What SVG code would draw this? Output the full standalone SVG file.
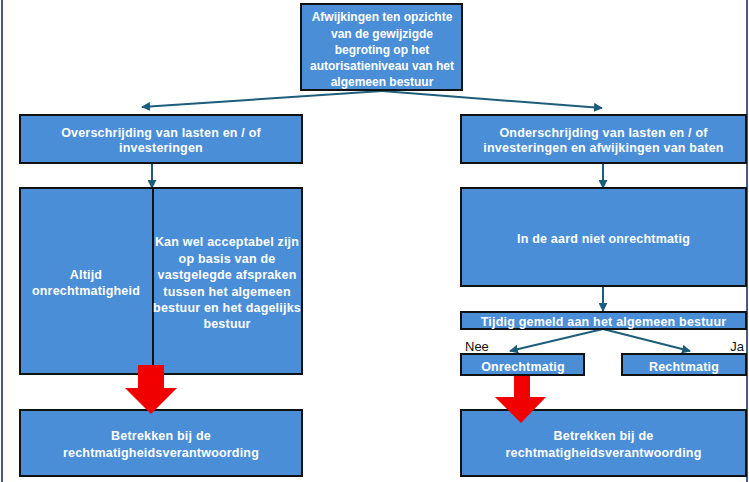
<svg xmlns="http://www.w3.org/2000/svg" width="749" height="482" viewBox="0 0 749 482">
<style>
.box{fill:#4a8ed8;stroke:#111;stroke-width:2}
.t{font-family:"Liberation Sans",Arial,sans-serif;font-weight:bold;font-size:12.5px;fill:#fff;text-anchor:middle;letter-spacing:0.2px}
.tn{font-family:"Liberation Sans",Arial,sans-serif;font-weight:bold;font-size:12px;fill:#fff;text-anchor:middle}
.lbl{font-family:"Liberation Sans",Arial,sans-serif;font-size:13px;fill:#111}
.c{stroke:#1d5d7c;stroke-width:2;fill:none;marker-end:url(#ah)}
.red{fill:#f20000}
</style>
<defs>
<marker id="ah" viewBox="0 0 10 10" refX="9" refY="5" markerWidth="4.5" markerHeight="4.5" orient="auto" markerUnits="strokeWidth">
<path d="M0,0 L10,5 L0,10 z" fill="#1d5d7c"/>
</marker>
</defs>
<rect width="749" height="482" fill="#fff"/>
<line x1="2" y1="0" x2="2" y2="482" stroke="#4a5a80" stroke-width="2"/>
<line x1="747" y1="0" x2="747" y2="482" stroke="#4a5a80" stroke-width="2"/>

<g id="connectors">
<line class="c" x1="382" y1="91" x2="142" y2="107"/>
<line class="c" x1="382" y1="91" x2="602" y2="108"/>
<line class="c" x1="152" y1="163" x2="152" y2="188"/>
<line class="c" x1="603" y1="163" x2="603" y2="188"/>
<line class="c" x1="603" y1="286" x2="603" y2="311"/>
<line class="c" x1="603" y1="329" x2="510" y2="351"/>
<line class="c" x1="603" y1="329" x2="690" y2="351"/>
</g>

<g id="top">
<rect class="box" x="301" y="4" width="161" height="86"/>
<text class="tn" x="382" y="20.5">Afwijkingen ten opzichte</text>
<text class="tn" x="382" y="37.5">van de gewijzigde</text>
<text class="tn" x="382" y="53.5">begroting op het</text>
<text class="tn" x="382" y="70">autorisatieniveau van het</text>
<text class="tn" x="382" y="86">algemeen bestuur</text>
</g>

<g id="over">
<rect class="box" x="20" y="115" width="282" height="48"/>
<text class="t" x="161" y="136.5">Overschrijding van lasten en / of</text>
<text class="t" x="161" y="152">investeringen</text>
</g>

<g id="altijd">
<rect class="box" x="20" y="188" width="133" height="186"/>
<text class="t" x="86" y="278.5">Altijd</text>
<text class="t" x="86" y="295">onrechtmatigheid</text>
</g>

<g id="kanwel">
<rect class="box" x="153" y="188" width="149" height="186"/>
<text class="t" x="227" y="246">Kan wel acceptabel zijn</text>
<text class="t" x="227" y="262.5">op basis van de</text>
<text class="t" x="227" y="279">vastgelegde afspraken</text>
<text class="t" x="227" y="295.5">tussen het algemeen</text>
<text class="t" x="227" y="311.5">bestuur en het dagelijks</text>
<text class="t" x="227" y="328">bestuur</text>
</g>

<g id="betrekken-left">
<rect class="box" x="20" y="410" width="282" height="66"/>
<text class="t" x="161" y="440">Betrekken bij de</text>
<text class="t" x="161" y="456.5">rechtmatigheidsverantwoording</text>
</g>

<g id="betrekken-right">
<rect class="box" x="461" y="410" width="285" height="66"/>
<text class="t" x="603.5" y="440">Betrekken bij de</text>
<text class="t" x="603.5" y="456.5">rechtmatigheidsverantwoording</text>
</g>

<g id="onder">
<rect class="box" x="461" y="115" width="285" height="48"/>
<text class="t" x="603.5" y="136.5">Onderschrijding van lasten en / of</text>
<text class="t" x="603.5" y="152">investeringen en afwijkingen van baten</text>
</g>

<g id="aard">
<rect class="box" x="461" y="188" width="285" height="98"/>
<text class="t" x="603.5" y="242.5">In de aard niet onrechtmatig</text>
</g>

<g id="tijdig">
<rect class="box" x="461" y="312" width="285" height="17"/>
<text class="t" x="603.5" y="326">Tijdig gemeld aan het algemeen bestuur</text>
</g>

<g id="onrechtmatig">
<rect class="box" x="461" y="354" width="123" height="21"/>
<text class="t" x="523" y="370.5">Onrechtmatig</text>
</g>

<g id="rechtmatig">
<rect class="box" x="622" y="354" width="124" height="21"/>
<text class="t" x="684" y="370.5">Rechtmatig</text>
</g>

<g id="labels">
<text class="lbl" x="465" y="351">Nee</text>
<text class="lbl" x="744" y="351" text-anchor="end">Ja</text>
</g>

<g id="red-arrows">
<polygon class="red" points="138,365 164,365 164,388 177,388 151,414 125,388 138,388"/>
<polygon class="red" points="514,376 530,376 530,397 546,397 521,423 495,397 514,397"/>
</g>
</svg>
